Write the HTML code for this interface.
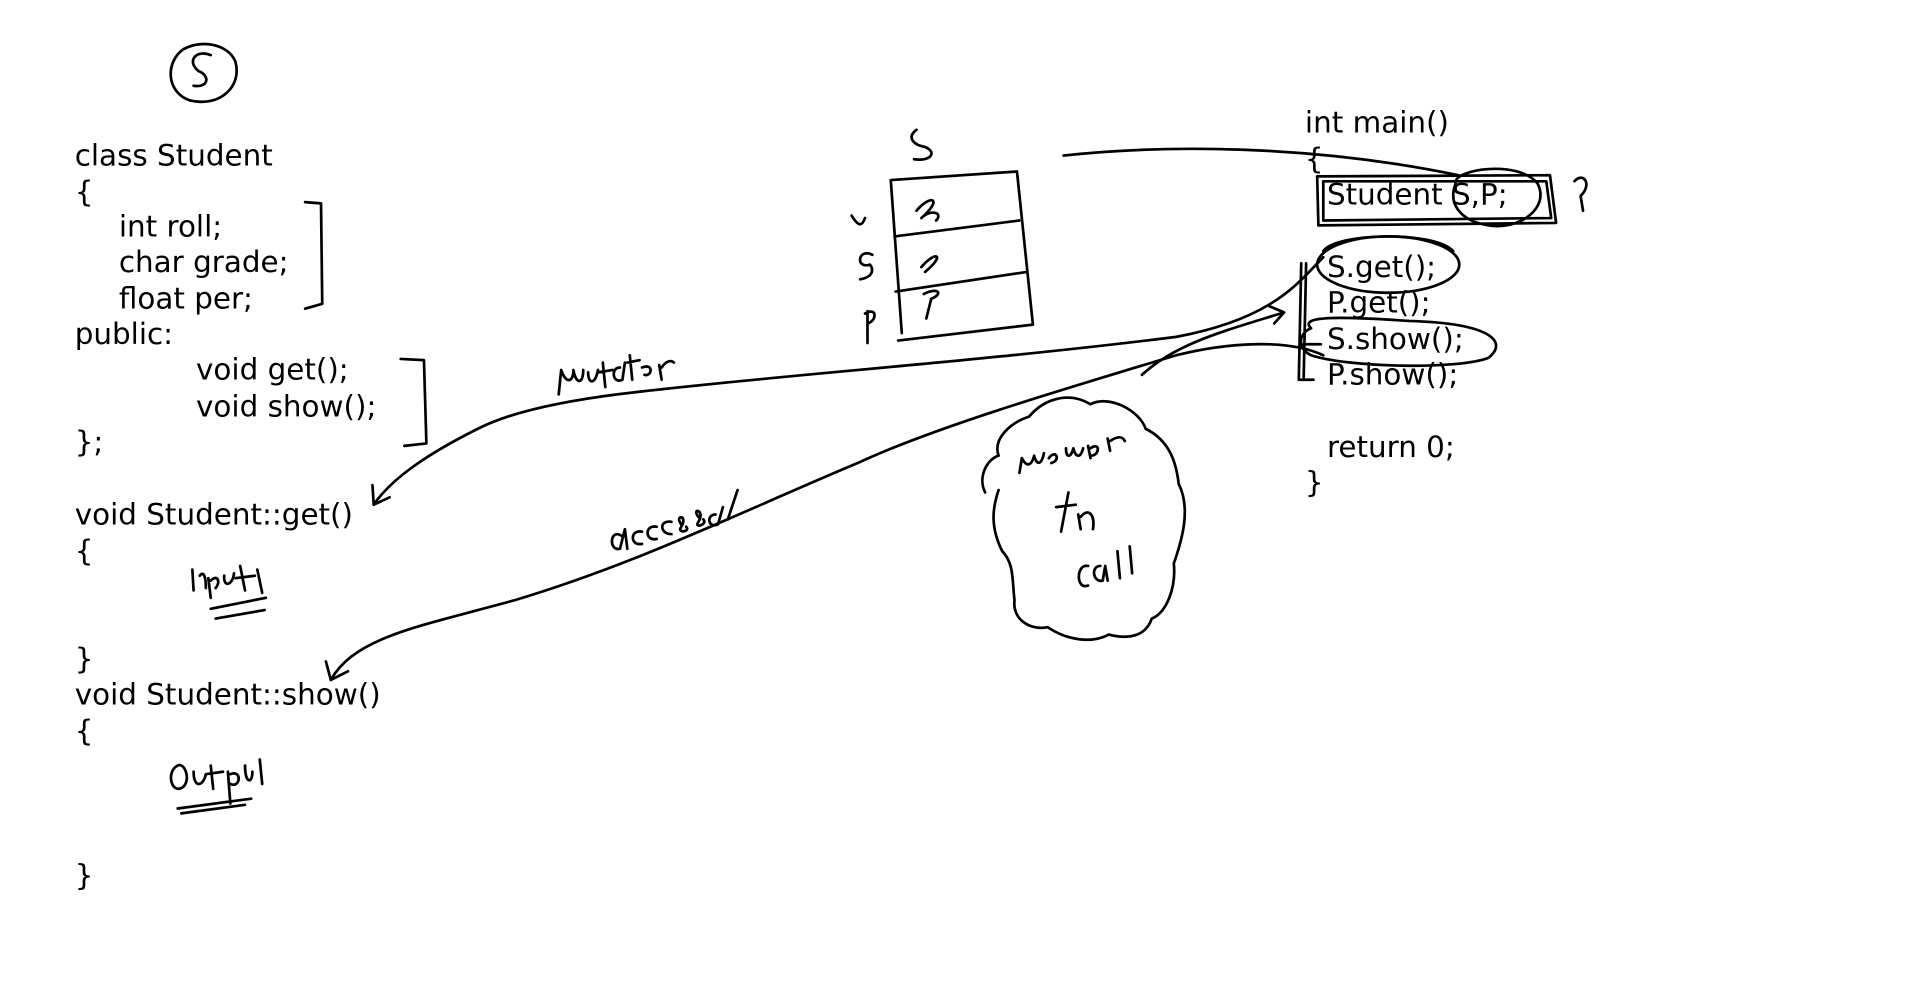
<!DOCTYPE html>
<html><head><meta charset="utf-8"><style>
html,body{margin:0;padding:0;background:#fff;overflow:hidden}
svg{display:block}
text{font-family:"DejaVu Sans","Liberation Sans",sans-serif;font-size:24px;fill:#000}
path,ellipse,circle,rect{fill:none;stroke:#000;stroke-width:2.2;stroke-linecap:round;stroke-linejoin:round}
</style></head><body>
<svg width="1920" height="991" viewBox="0 0 1567 809" preserveAspectRatio="none" xmlns="http://www.w3.org/2000/svg">
<path d="M150,40 C135,50 135,75 155,82 C180,88 198,70 192,50 C186,36 165,32 150,40"/>
<path d="M172,45 C160,40 152,50 162,58 C172,62 170,72 158,70"/>
<text x="61" y="135">class Student</text>
<text x="61" y="165">{</text>
<text x="97" y="193">int roll;</text>
<text x="97" y="222">char grade;</text>
<text x="97" y="252">float per;</text>
<text x="61" y="281">public:</text>
<text x="160" y="310">void get();</text>
<text x="160" y="340">void show();</text>
<text x="61" y="369">};</text>
<text x="61" y="428">void Student::get()</text>
<text x="61" y="458">{</text>
<text x="61" y="546">}</text>
<text x="61" y="575">void Student::show()</text>
<text x="61" y="605">{</text>
<text x="61" y="723">}</text>
<path d="M249,165 L262,166 L263,248 L249,252"/>
<path d="M327,293 L346,294 L348,362 L330,364"/>
<path d="M157,465 L158,482 M163,470 C166,466 168,470 168,480 M170,472 L172,488 M172,474 C178,468 180,476 176,480 M183,470 C182,480 190,478 191,468 M196,462 L200,482 M192,472 L208,470 M210,465 L214,484"/>
<path d="M172,497 L217,488 M176,505 L216,498"/>
<path d="M145,625 C135,630 140,650 150,642 C156,635 150,622 145,625 M158,630 C158,644 166,642 168,632 M172,625 L174,644 M168,632 L182,630 M186,630 L188,656 M188,632 C198,628 196,644 188,640 M200,625 C200,640 206,640 206,630 M212,620 L214,640"/>
<path d="M145,660 L205,652 M148,664 L200,657"/>
<path d="M748,106 C740,112 745,118 755,120 C765,124 760,132 746,130"/>
<path d="M727,147 L830,140 L843,265 L733,278 M727,147 L736,272"/>
<path d="M730,193 L832,180 M731,238 L838,222"/>
<path d="M748,172 C760,158 770,162 752,178 C760,170 770,174 764,180"/>
<path d="M752,218 C764,204 772,208 755,222"/>
<path d="M754,240 C766,234 770,240 760,244 L756,260"/>
<path d="M695,176 C700,184 703,186 706,178"/>
<path d="M712,208 C700,202 698,220 710,216 C713,220 713,226 702,228"/>
<path d="M708,254 L708,280 M706,256 C716,250 716,262 708,264"/>
<text x="1065" y="108">int main()</text>
<text x="1065" y="138">{</text>
<text x="1083" y="167">Student S,P;</text>
<text x="1083" y="226">S.get();</text>
<text x="1083" y="255">P.get();</text>
<text x="1083" y="285">S.show();</text>
<text x="1083" y="314">P.show();</text>
<text x="1083" y="373">return 0;</text>
<text x="1065" y="402">}</text>
<path d="M1075,144 L1265,143 L1270,182 L1076,184 Z"/>
<path d="M1080,148 L1262,148 L1266,178 L1080,180 Z"/>
<path d="M1188,150 C1185,138 1240,130 1255,150 C1265,170 1240,188 1215,184 C1190,180 1182,165 1188,150"/>
<path d="M1285,148 C1292,140 1300,150 1290,160 L1292,172"/>
<ellipse cx="1133" cy="216" rx="58" ry="23"/>
<path d="M1080,205 C1090,190 1170,188 1186,205"/>
<path d="M1070,268 C1060,258 1090,258 1150,262 C1220,264 1230,280 1215,292 C1190,302 1100,300 1070,290 C1058,284 1060,272 1070,268"/>
<path d="M1062,215 L1060,310 L1072,310 M1066,215 L1064,308 M1064,281 L1078,281"/>
<path d="M868,127 C950,118 1070,118 1190,143"/>
<path d="M1080,210 C1060,230 1040,260 960,275 C800,295 650,305 520,320 C430,330 400,345 390,350 C350,370 320,390 305,412"/>
<path d="M305,412 L304,396 M305,412 L318,406"/>
<path d="M456,322 L458,302 C462,314 468,312 468,302 C470,314 476,314 476,302 M480,304 C480,314 486,314 488,302 M492,296 L494,316 M488,304 L500,302 M506,300 C498,300 500,314 508,310 L510,296 M514,290 L516,310 M512,296 L522,294 M524,300 C534,296 532,308 526,306 M538,298 L540,310 M540,300 C544,294 548,294 550,296"/>
<path d="M1080,290 C1050,276 1000,280 960,290 C860,320 760,350 700,378 C600,420 520,460 420,490 C340,512 290,520 270,555"/>
<path d="M270,555 L266,540 M270,555 L284,548"/>
<path d="M508,438 C498,430 496,450 506,448 L510,432 L512,448 M524,434 C514,432 514,446 524,444 M536,430 C526,428 526,442 536,440 M548,426 C538,424 538,436 548,436 M556,428 C550,420 562,420 556,430 C552,436 564,434 560,430 M570,422 C564,414 576,416 570,426 C566,432 578,428 574,424 M584,420 C576,420 578,432 586,428 L590,414 M594,424 L602,400"/>
<path d="M932,306 C960,280 1000,270 1048,255 M1048,255 L1036,250 M1048,255 L1040,264"/>
<path d="M804,402 C798,390 805,375 815,372 C810,358 825,345 840,340 C850,328 870,318 890,330 C905,322 930,335 935,350 C955,360 960,378 962,395 C972,415 965,440 958,460 C960,480 952,500 940,505 C935,520 920,522 905,518 C890,526 870,522 855,512 C840,515 826,505 828,490 C826,475 828,460 818,450 C808,430 810,415 815,400"/>
<path d="M832,386 L834,374 C838,382 842,380 844,372 C846,380 850,380 852,370 M856,374 C862,366 866,376 858,378 M870,366 C870,374 874,374 876,366 C878,374 882,374 884,366 M888,364 L890,374 M890,366 C898,360 898,372 890,372 M904,358 L906,368 M906,360 C912,356 916,356 918,360"/>
<path d="M872,402 L866,434 M862,414 L878,412 M880,420 L882,432 M882,422 C888,414 894,420 892,432"/>
<path d="M888,462 C878,460 878,482 888,478 M898,462 C890,462 892,476 900,474 L902,462 L904,474 M912,450 L914,472 M922,446 L924,468"/>
</svg>
</body></html>
